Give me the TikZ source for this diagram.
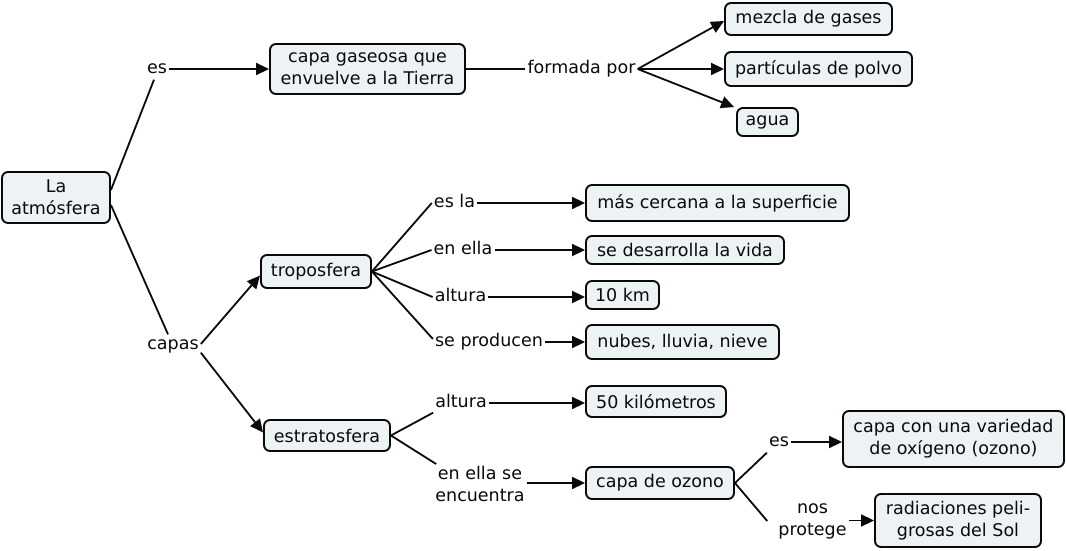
\documentclass[tikz,border=0pt]{standalone}
\usepackage{fontspec}
\setmainfont{DejaVu Sans}
\usetikzlibrary{arrows.meta}
\definecolor{boxfill}{RGB}{237,242,245}
\definecolor{ink}{RGB}{10,10,10}
\begin{document}
\begin{tikzpicture}[x=1pt,y=-1pt,
  every node/.style={font=\fontsize{17.5}{22}\selectfont, text=ink},
  box/.style={draw=ink, fill=boxfill, line width=1.9pt, rounded corners=6pt, align=center, inner sep=0pt},
  lab/.style={inner sep=2pt, align=center, text height=13pt, text depth=4pt},
  labtwo/.style={inner sep=2pt, align=center},
  con/.style={line width=1.8pt, draw=ink},
  arr/.style={con, -{Triangle[length=13pt,width=12pt]}}]
\fill[white] (0,0) rectangle (1066,551);
\useasboundingbox (0,0) rectangle (1066,551);
% boxes
\node[box, minimum width=108pt, minimum height=51pt] (atm) at (56,197.5) {La\\atmósfera};
\node[box, minimum width=195pt, minimum height=50pt] (gas) at (367.5,69) {capa gaseosa que\\envuelve a la Tierra};
\node[box, minimum width=167pt, minimum height=32pt] (mez) at (808.5,19) {mezcla de gases};
\node[box, minimum width=187pt, minimum height=34pt] (par) at (818.5,69) {partículas de polvo};
\node[box, minimum width=61pt, minimum height=28pt] (agua) at (767.5,122) {agua};
\node[box, minimum width=110pt, minimum height=33pt] (tropo) at (316,271.5) {troposfera};
\node[box, minimum width=126pt, minimum height=31pt] (estr) at (327,435.5) {estratosfera};
\node[box, minimum width=263pt, minimum height=36pt] (mas) at (717.5,203) {más cercana a la superficie};
\node[box, minimum width=198pt, minimum height=28pt] (vida) at (685,250) {se desarrolla la vida};
\node[box, minimum width=73pt, minimum height=28pt] (kmten) at (622.5,295) {10 km};
\node[box, minimum width=193pt, minimum height=34pt] (nub) at (682.5,342) {nubes, lluvia, nieve};
\node[box, minimum width=140pt, minimum height=31pt] (kmfifty) at (656,401.5) {50 kilómetros};
\node[box, minimum width=148pt, minimum height=32pt] (ozo) at (660,483) {capa de ozono};
\node[box, minimum width=221pt, minimum height=56pt] (oxi) at (953.5,439) {capa con una variedad\\de oxígeno (ozono)};
\node[box, minimum width=166pt, minimum height=53pt] (rad) at (958,520.5) {radiaciones peli-\\grosas del Sol};
% labels
\node[lab] (esa) at (157,69) {es};
\node[lab] (form) at (581.5,69) {formada por};
\node[lab] (capas) at (173,345) {capas};
\node[lab] (esla) at (454.5,203) {es la};
\node[lab] (enella) at (463,250) {en ella};
\node[lab] (altA) at (460.5,297) {altura};
\node[lab] (sepro) at (489,342) {se producen};
\node[lab] (altB) at (461,403) {altura};
\node[labtwo] (enellase) at (480,484) {en ella se\\encuentra};
\node[lab] (esb) at (779,442) {es};
\node[labtwo] (nos) at (812.5,521) {nos\\protege};
% connectors
\draw[con] ([yshift=7.5pt]atm.east) -- ([xshift=-3pt]esa.south);
\draw[con] ([yshift=-7.5pt]atm.east) -- ([xshift=-5pt]capas.north);
\draw[arr] (esa.east) -- (gas.west);
\draw[con] (gas.east) -- (form.west);
\draw[arr] (form.east) -- ([yshift=-2pt]mez.west);
\draw[arr] (form.east) -- (par.west);
\draw[arr] (form.east) -- ([xshift=-2pt]agua.north west);
\draw[arr] ([yshift=1pt]capas.east) -- ([yshift=-4pt]tropo.west);
\draw[arr] ([yshift=3pt]capas.south east) -- ([yshift=3pt]estr.west);
\draw[con] (tropo.east) -- (esla.west);
\draw[con] (tropo.east) -- (enella.west);
\draw[con] (tropo.east) -- (altA.west);
\draw[con] (tropo.east) -- ([yshift=3pt]sepro.west);
\draw[arr] (esla.east) -- (mas.west);
\draw[arr] (enella.east) -- (vida.west);
\draw[arr] (altA.east) -- (altA.east -| kmten.west);
\draw[arr] (sepro.east) -- (nub.west);
\draw[con] (estr.east) -- ([yshift=1pt]altB.south west);
\draw[con] (estr.east) -- ([xshift=3pt]enellase.north west);
\draw[arr] (altB.east) -- (altB.east -| kmfifty.west);
\draw[arr] (enellase.east |- ozo.west) -- (ozo.west);
\draw[con] (ozo.east) -- (esb.south west);
\draw[con] (ozo.east) -- ([xshift=-9pt]nos.west);
\draw[arr] (esb.east) -- (esb.east -| oxi.west);
\draw[arr] (nos.east |- rad.west) -- (rad.west);
\end{tikzpicture}
\end{document}
